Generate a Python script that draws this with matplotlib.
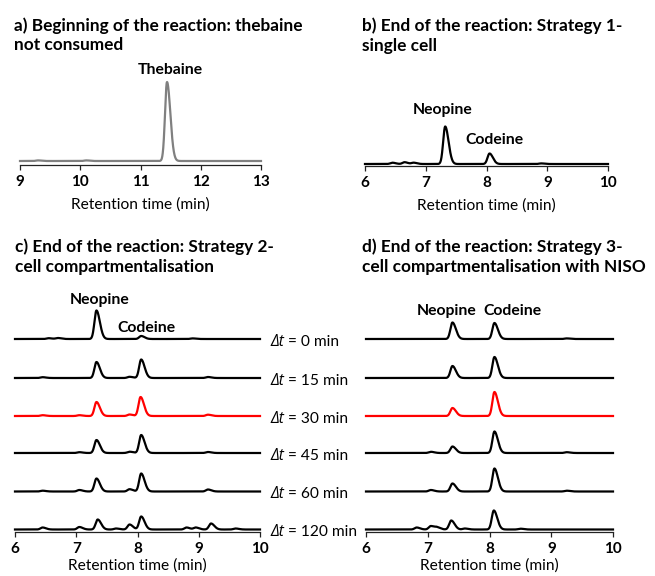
import numpy as np
import matplotlib
matplotlib.use("Agg")
import matplotlib.pyplot as plt

plt.rcParams['font.family'] = ['Lato', 'DejaVu Sans']

W, H = 655, 576

# ---------------- data (peak tables) ----------------
# each peak: (retention time [min], height [a.u.])
thebaine_peaks = [(11.44, 79.0), (9.3, 0.6), (10.1, 0.6)]

single_cell_peaks = [(7.32, 37.5), (8.05, 10.5), (6.45, 1.3), (6.65, 1.8), (6.8, 1.3), (8.9, 0.6)]

delta_t_labels = ["0", "15", "30", "45", "60", "120"]

strategy2_peaks = [
    [(7.33, 28.5), (8.06, 3.0), (6.55, 0.8), (6.7, 1.0), (8.9, 0.6)],
    [(7.33, 16.0), (8.06, 18.5), (6.45, 0.8), (7.87, 1.2), (9.15, 1.0)],
    [(7.33, 14.0), (8.05, 19.0), (6.45, 0.8), (7.05, 0.8), (7.87, 1.5), (9.15, 1.3)],
    [(7.33, 13.0), (8.06, 18.0), (7.05, 0.8), (7.87, 1.3), (9.15, 1.0)],
    [(7.33, 13.0), (8.06, 18.0), (6.45, 0.8), (7.05, 1.5), (7.87, 2.3), (9.15, 2.0)],
    [(7.35, 10.0), (8.06, 13.0), (6.45, 2.0), (7.05, 2.5), (7.65, 1.0), (7.87, 5.0),
     (8.8, 2.0), (8.95, 2.0), (9.2, 6.0), (9.6, 1.0)],
]

strategy3_peaks = [
    [(7.40, 16.5), (8.08, 16.0), (9.25, 0.6)],
    [(7.40, 12.0), (8.08, 21.0)],
    [(7.40, 8.0), (8.08, 24.0)],
    [(7.40, 6.5), (8.08, 21.5), (7.05, 1.2), (9.25, 0.8)],
    [(7.40, 8.0), (8.08, 23.0), (7.05, 1.5), (9.25, 0.8)],
    [(7.38, 9.0), (8.07, 19.0), (6.82, 2.0), (7.05, 3.5), (7.15, 2.0), (7.6, 1.0), (8.5, 0.8)],
]

trace_colors_cd = ["black", "black", "red", "black", "black", "black"]

TITLE_FS = 12.4
PEAK_FS = 11.3
TICK_FS = 11
LABEL_FS = 11.2

# ---------------- helpers ----------------
def fx(px):
    return px / W

def fy(py):
    return 1 - py / H

def make_ax(left, right, top, bottom, xlim, xticks, labelpad):
    ax = plt.gcf().add_axes([fx(left), fy(bottom), fx(right - left), (bottom - top) / H])
    ax.set_xlim(*xlim)
    ax.set_ylim(0, bottom - top)
    for s in ("left", "right", "top"):
        ax.spines[s].set_visible(False)
    ax.spines["bottom"].set_linewidth(0.9)
    ax.spines["bottom"].set_color("#222222")
    ax.set_yticks([])
    ax.set_xticks(xticks)
    ax.set_xticklabels([str(t) for t in xticks], fontweight="bold", fontsize=TICK_FS)
    ax.tick_params(axis="x", direction="out", length=3.5, width=0.9, color="#222222", pad=4)
    ax.set_xlabel("Retention time (min)", fontsize=LABEL_FS, labelpad=labelpad)
    ax.patch.set_alpha(0)
    return ax

def trace(x, peaks):
    y = np.zeros_like(x)
    for rt, h in peaks:
        sig = np.where(x < rt, 0.033, 0.055)
        y = y + h * np.exp(-0.5 * ((x - rt) / sig) ** 2)
    return y

fig = plt.figure(figsize=(W / 100, H / 100), dpi=100)

def label(x, y, s, **kw):
    fig.text(fx(x), fy(y), s, va="center", **kw)

def title(x, y_base, s):
    fig.text(fx(x), fy(y_base), s, va="baseline", ha="left", fontweight="bold", fontsize=TITLE_FS)

# ---------------- panel a ----------------
axa = make_ax(20, 261, 60, 165, (9, 13), [9, 10, 11, 12, 13], 6)
xa = np.linspace(9, 13, 2000)
axa.plot(xa, 4 + trace(xa, thebaine_peaks), color="#808080", lw=1.6, clip_on=False)
label(170, 70, "Thebaine", ha="center", fontweight="bold", fontsize=PEAK_FS)
title(14, 31, "a) Beginning of the reaction: thebaine")
title(14, 50.5, "not consumed")

# ---------------- panel b ----------------
axb = make_ax(365, 608, 60, 165.5, (6, 10), [6, 7, 8, 9, 10], 6)
xb = np.linspace(6, 10, 2000)
axb.plot(xb, 1.5 + trace(xb, single_cell_peaks), color="black", lw=1.6, clip_on=False)
label(443, 110, "Neopine", ha="center", fontweight="bold", fontsize=PEAK_FS)
label(494, 140, "Codeine", ha="center", fontweight="bold", fontsize=PEAK_FS)
title(362, 31, "b) End of the reaction: Strategy 1-")
title(362, 50.5, "single cell")

# ---------------- panels c and d ----------------
baselines_px = [339, 378, 416, 453, 491.5, 529.5]
axis_px = 531.7

axc = make_ax(15, 260, 290, axis_px, (6, 10), [6, 7, 8, 9, 10], 1.5)
axd = make_ax(366, 613, 290, axis_px, (6, 10), [6, 7, 8, 9, 10], 1.5)
xc = np.linspace(6, 10, 2000)
for i, peaks in enumerate(strategy2_peaks):
    off = axis_px - baselines_px[i]
    axc.plot(xc, off + trace(xc, peaks), color=trace_colors_cd[i], lw=1.6, clip_on=False)
for i, peaks in enumerate(strategy3_peaks):
    off = axis_px - baselines_px[i]
    axd.plot(xc, off + trace(xc, peaks), color=trace_colors_cd[i], lw=1.6, clip_on=False)

for i, lab in enumerate(delta_t_labels):
    t1 = fig.text(fx(270), fy(baselines_px[i] + 3), "\u0394t", ha="left", va="center",
                  style="italic", fontsize=LABEL_FS, family=["Open Sans", "DejaVu Sans"])
    axc.annotate(" = %s min" % lab, xy=(1, 0.5), xycoords=t1, ha="left", va="center",
                 fontsize=LABEL_FS, annotation_clip=False)

label(100, 300, "Neopine", ha="center", fontweight="bold", fontsize=PEAK_FS)
label(146, 328, "Codeine", ha="center", fontweight="bold", fontsize=PEAK_FS)
label(447, 311, "Neopine", ha="center", fontweight="bold", fontsize=PEAK_FS)
label(512, 311, "Codeine", ha="center", fontweight="bold", fontsize=PEAK_FS)

title(15, 252, "c) End of the reaction: Strategy 2-")
title(15, 272, "cell compartmentalisation")
title(362, 252, "d) End of the reaction: Strategy 3-")
title(362, 272, "cell compartmentalisation with NISO")

fig.savefig("out.png", dpi=100)
